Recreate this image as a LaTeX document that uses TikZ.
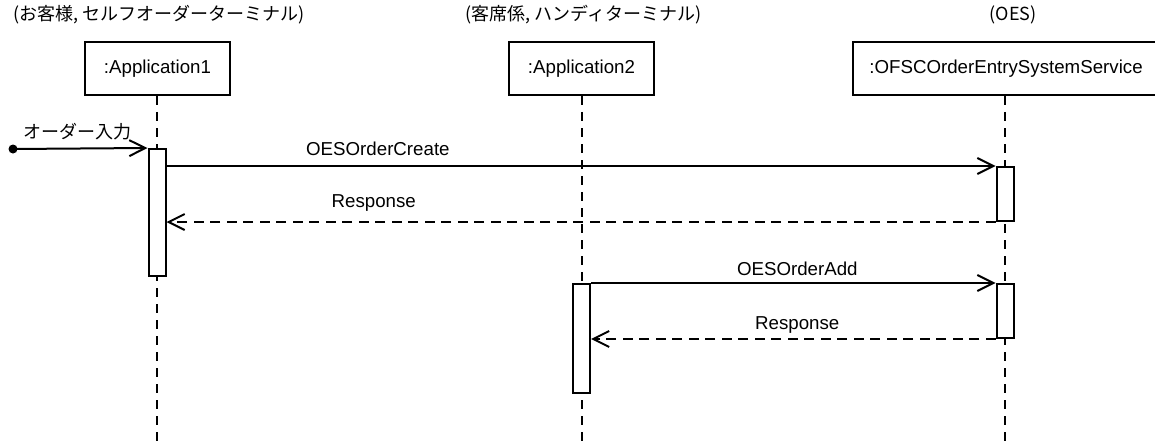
\documentclass[tikz,border=0pt]{standalone}
\usepackage{fontspec}
\setmainfont{Liberation Sans}
\newfontfamily\jpfont{Noto Sans CJK JP}
\usetikzlibrary{arrows.meta}
\begin{document}
\begin{tikzpicture}[x=1pt,y=-1pt,
  font=\fontsize{18.7}{22}\selectfont,
  jp/.style={font=\jpfont\fontsize{18}{21}\selectfont, inner sep=0pt},
  objbox/.style={draw, line width=2pt, minimum height=53pt, inner sep=0pt},
  lifeline/.style={line width=2pt, dash pattern=on 9pt off 7pt},
  actbox/.style={draw, fill=white, line width=2pt, minimum width=17pt, inner sep=0pt},
  msg/.style={line width=2pt, -{Straight Barb[length=16pt,width=16pt]}},
  reply/.style={msg, dash pattern=on 10pt off 6.5pt},
  lbl/.style={anchor=base, inner sep=0pt}]
\useasboundingbox (0,0) rectangle (1155,441);

% role captions
\node[jp, anchor=west] (cap1) at (13,15) {(お客様, セルフオーダーターミナル)};
\node[jp, anchor=west] (cap2) at (465,15) {(客席係, ハンディターミナル)};
\node[jp] (cap3) at (1013,15) {(OES)};

% object heads
\node[objbox, minimum width=145pt] (app1) at (157.5,68.5) {:Application1};
\node[objbox, minimum width=145pt] (app2) at (581.5,68.5) {:Application2};
\node[objbox, minimum width=306pt] (oes) at (1006,68.5) {:OFSCOrderEntrySystemService};

% lifelines
\coordinate (end1) at (157,441);
\coordinate (end2) at (581.5,441);
\coordinate (end3) at (1005,441);
\draw[lifeline] (app1.south -| end1) -- (end1);
\draw[lifeline] (app2.south -| end2) -- (end2);
\draw[lifeline] (oes.south -| end3) -- (end3);

% activations
\node[actbox, minimum height=127pt] (act1) at (157,212.5) {};
\node[actbox, minimum height=109pt] (act2) at (581.5,338.5) {};
\node[actbox, minimum height=54pt] (oesA) at (1005,194) {};
\node[actbox, minimum height=54pt] (oesB) at (1005,311) {};

% found message
\coordinate (start) at (13,149);
\fill (start) circle (4.5pt);
\draw[msg] (start) -- (act1.north west)
  node[lbl, pos=0.48, yshift=10pt] {\jpfont\fontsize{18}{21}\selectfont オーダー入力};

% messages
\draw[msg] (act1.east |- oesA.north) -- (oesA.north west)
  node[lbl, pos=0.255, yshift=11pt] {OESOrderCreate};
\draw[reply] (oesA.south west) -- (act1.east |- oesA.south)
  node[lbl, pos=0.75, yshift=15pt] {Response};
\draw[msg] (act2.north east) -- (oesB.north west)
  node[lbl, pos=0.51, yshift=8pt] {OESOrderAdd};
\draw[reply] (oesB.south west) -- (act2.east |- oesB.south)
  node[lbl, pos=0.49, yshift=10pt] {Response};
\end{tikzpicture}
\end{document}
